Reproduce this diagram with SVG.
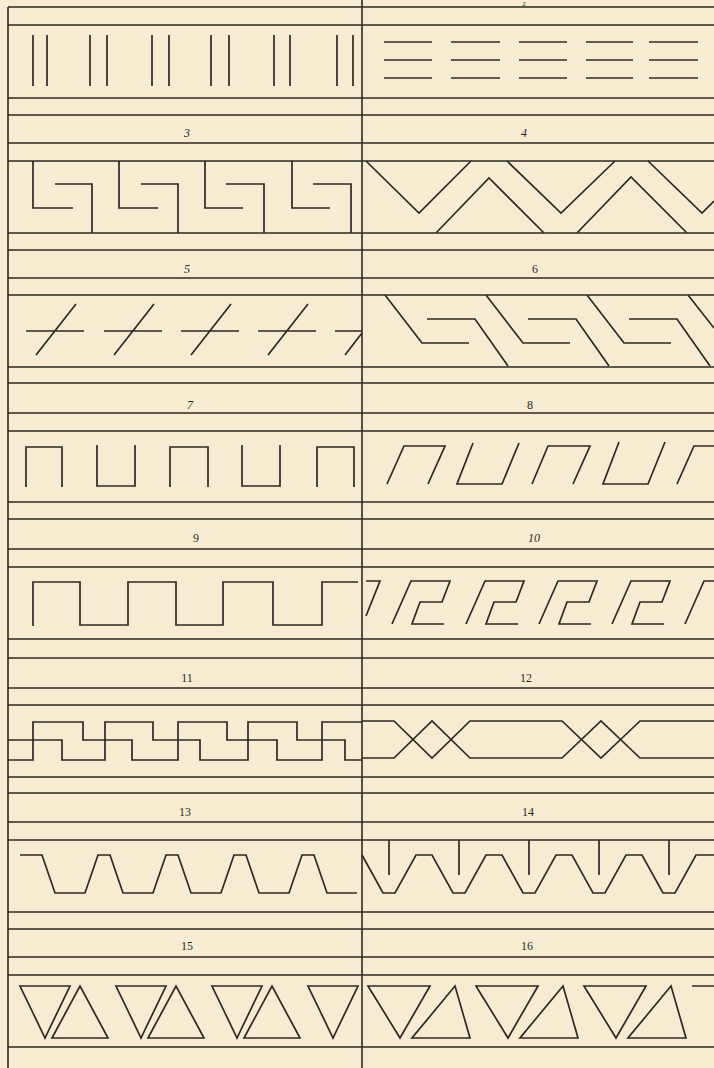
<svg xmlns="http://www.w3.org/2000/svg" width="714" height="1068" viewBox="0 0 714 1068">
<style>
.bg{fill:#f6ecd2}
.rule{stroke:#2c2a24;stroke-width:1.6;fill:none}
.p{stroke:#2c2a24;stroke-width:1.7;fill:none;stroke-linejoin:miter;stroke-linecap:butt}
.lbl{font-family:"Liberation Serif",serif;font-size:12px;fill:#2c2a24;text-anchor:middle}
.it{font-style:italic}
</style>
<rect class="bg" x="0" y="0" width="714" height="1068"/>
<g id="rules">
<path class="rule" d="M8 7V1068M362 0V1068"/>
<path class="rule" d="M8 7H714M8 25H714M8 98H714M8 115H714M8 143H714M8 161H714M8 233H714M8 250H714M8 278H714M8 295H714M8 367H714M8 383H714M8 413H714M8 431H714M8 502H714M8 519H714M8 549H714M8 567H714M8 639H714M8 658H714M8 688H714M8 705H714M8 777H714M8 793H714M8 822H714M8 840H714M8 912H714M8 929H714M8 957H714M8 975H714M8 1047H714"/>
</g>
<g id="labels">
<text class="lbl" x="524" y="6" style="font-size:7px">2</text>
<text class="lbl it" x="187" y="137">3</text>
<text class="lbl it" x="524" y="137">4</text>
<text class="lbl it" x="187" y="273">5</text>
<text class="lbl" x="535" y="273">6</text>
<text class="lbl it" x="190" y="409">7</text>
<text class="lbl" x="530" y="409">8</text>
<text class="lbl" x="196" y="542">9</text>
<text class="lbl it" x="534" y="542">10</text>
<text class="lbl" x="187" y="682">11</text>
<text class="lbl" x="526" y="682">12</text>
<text class="lbl" x="185" y="816">13</text>
<text class="lbl" x="528" y="816">14</text>
<text class="lbl" x="187" y="950">15</text>
<text class="lbl" x="527" y="950">16</text>
</g>
<g id="pattern1">
<path class="p" d="M33 35V86M47 35V86M90 35V86M107 35V86M152 35V86M169 35V86M211 35V86M229 35V86M274 35V86M290 35V86M337 35V86M353 35V86"/>
</g>
<g id="pattern2">
<path class="p" d="M384 42H432M384 60H432M384 78H432M451 42H500M451 60H500M451 78H500M519 42H567M519 60H567M519 78H567M586 42H633M586 60H633M586 78H633M649 42H698M649 60H698M649 78H698"/>
</g>
<g id="pattern3">
<path class="p" d="M33 161V208H73M55 184H92V233M119 161V208H158M141 184H178V233M205 161V208H243M226 184H264V233M292 161V208H330M313 184H351V233"/>
</g>
<g id="pattern4">
<path class="p" d="M366 161L419 213L471 161M507 161L561 213L615 161M648 161L702 213L714 201M436 233L489 178L544 233M577 233L631 177L687 233"/>
</g>
<g id="pattern5">
<path class="p" d="M26 331H84M36 355L76 304M104 331H162M114 355L154 304M181 331H239M191 355L231 304M258 331H316M268 355L308 304M335 331H362M345 355L362 333"/>
</g>
<g id="pattern6">
<path class="p" d="M385 295L422 343H469M427 319H475L508 366M486 295L523 343H570M528 319H576L609 366M587 295L624 343H671M629 319H677L710 366M688 295L714 328"/>
</g>
<g id="pattern7">
<path class="p" d="M26 487V447H62V487M97 445V486H135V445M170 487V447H208V487M242 445V486H280V445M317 487V447H354V487"/>
</g>
<g id="pattern8">
<path class="p" d="M387 484L404 446H445L428 484M473 443L457 484H502L519 443M532 484L548 446H590L573 484M619 442L603 484H648L665 442M677 484L694 446H714"/>
</g>
<g id="pattern9">
<path class="p" d="M33 626V582H80V625H128V582H176V625H223V582H273V625H322V582H358"/>
</g>
<g id="pattern10">
<path class="p" d="M366 581H380L366 616M392 624L411 581H450L442 602H420L412 624H444M466 624L485 581H524L516 602H494L486 624H518M539 624L558 581H597L589 602H567L559 624H591M612 624L631 581H670L662 602H640L632 624H664M685 624L704 581H714"/>
</g>
<g id="pattern11">
<path class="p" d="M8 760H33V722H83V740H132V760H178V722H227V740H277V760H322V722H362"/>
<path class="p" d="M8 740H62V760H105V722H153V740H200V760H248V722H297V740H345V760H362"/>
</g>
<g id="pattern12">
<path class="p" d="M362 721H394L432 758L470 721H562L601 758L640 721H714"/>
<path class="p" d="M362 758H394L432 721L470 758H562L601 721L640 758H714"/>
</g>
<g id="pattern13">
<path class="p" d="M20 855H42L55 893H85L98 855H110L123 893H153L166 855H178L191 893H221L234 855H246L259 893H289L302 855H314L327 893H357"/>
</g>
<g id="pattern14">
<path class="p" d="M362 855L383 893H395L416 855H432L453 893H465L486 855H502L523 893H535L556 855H572L593 893H605L626 855H642L663 893H675L696 855H714M389 840V875M459 840V875M529 840V875M599 840V875M669 840V875"/>
</g>
<g id="pattern15">
<path class="p" d="M20 986H70L45 1038ZM52 1038H108L80 986ZM116 986H166L141 1038ZM148 1038H204L176 986ZM212 986H262L237 1038ZM244 1038H300L272 986ZM308 986H358L333 1038Z"/>
</g>
<g id="pattern16">
<path class="p" d="M368 986H430L400 1038ZM412 1038H470L455 986ZM476 986H538L508 1038ZM520 1038H578L563 986ZM584 986H646L616 1038ZM628 1038H686L671 986ZM692 986H714"/>
</g>
</svg>
